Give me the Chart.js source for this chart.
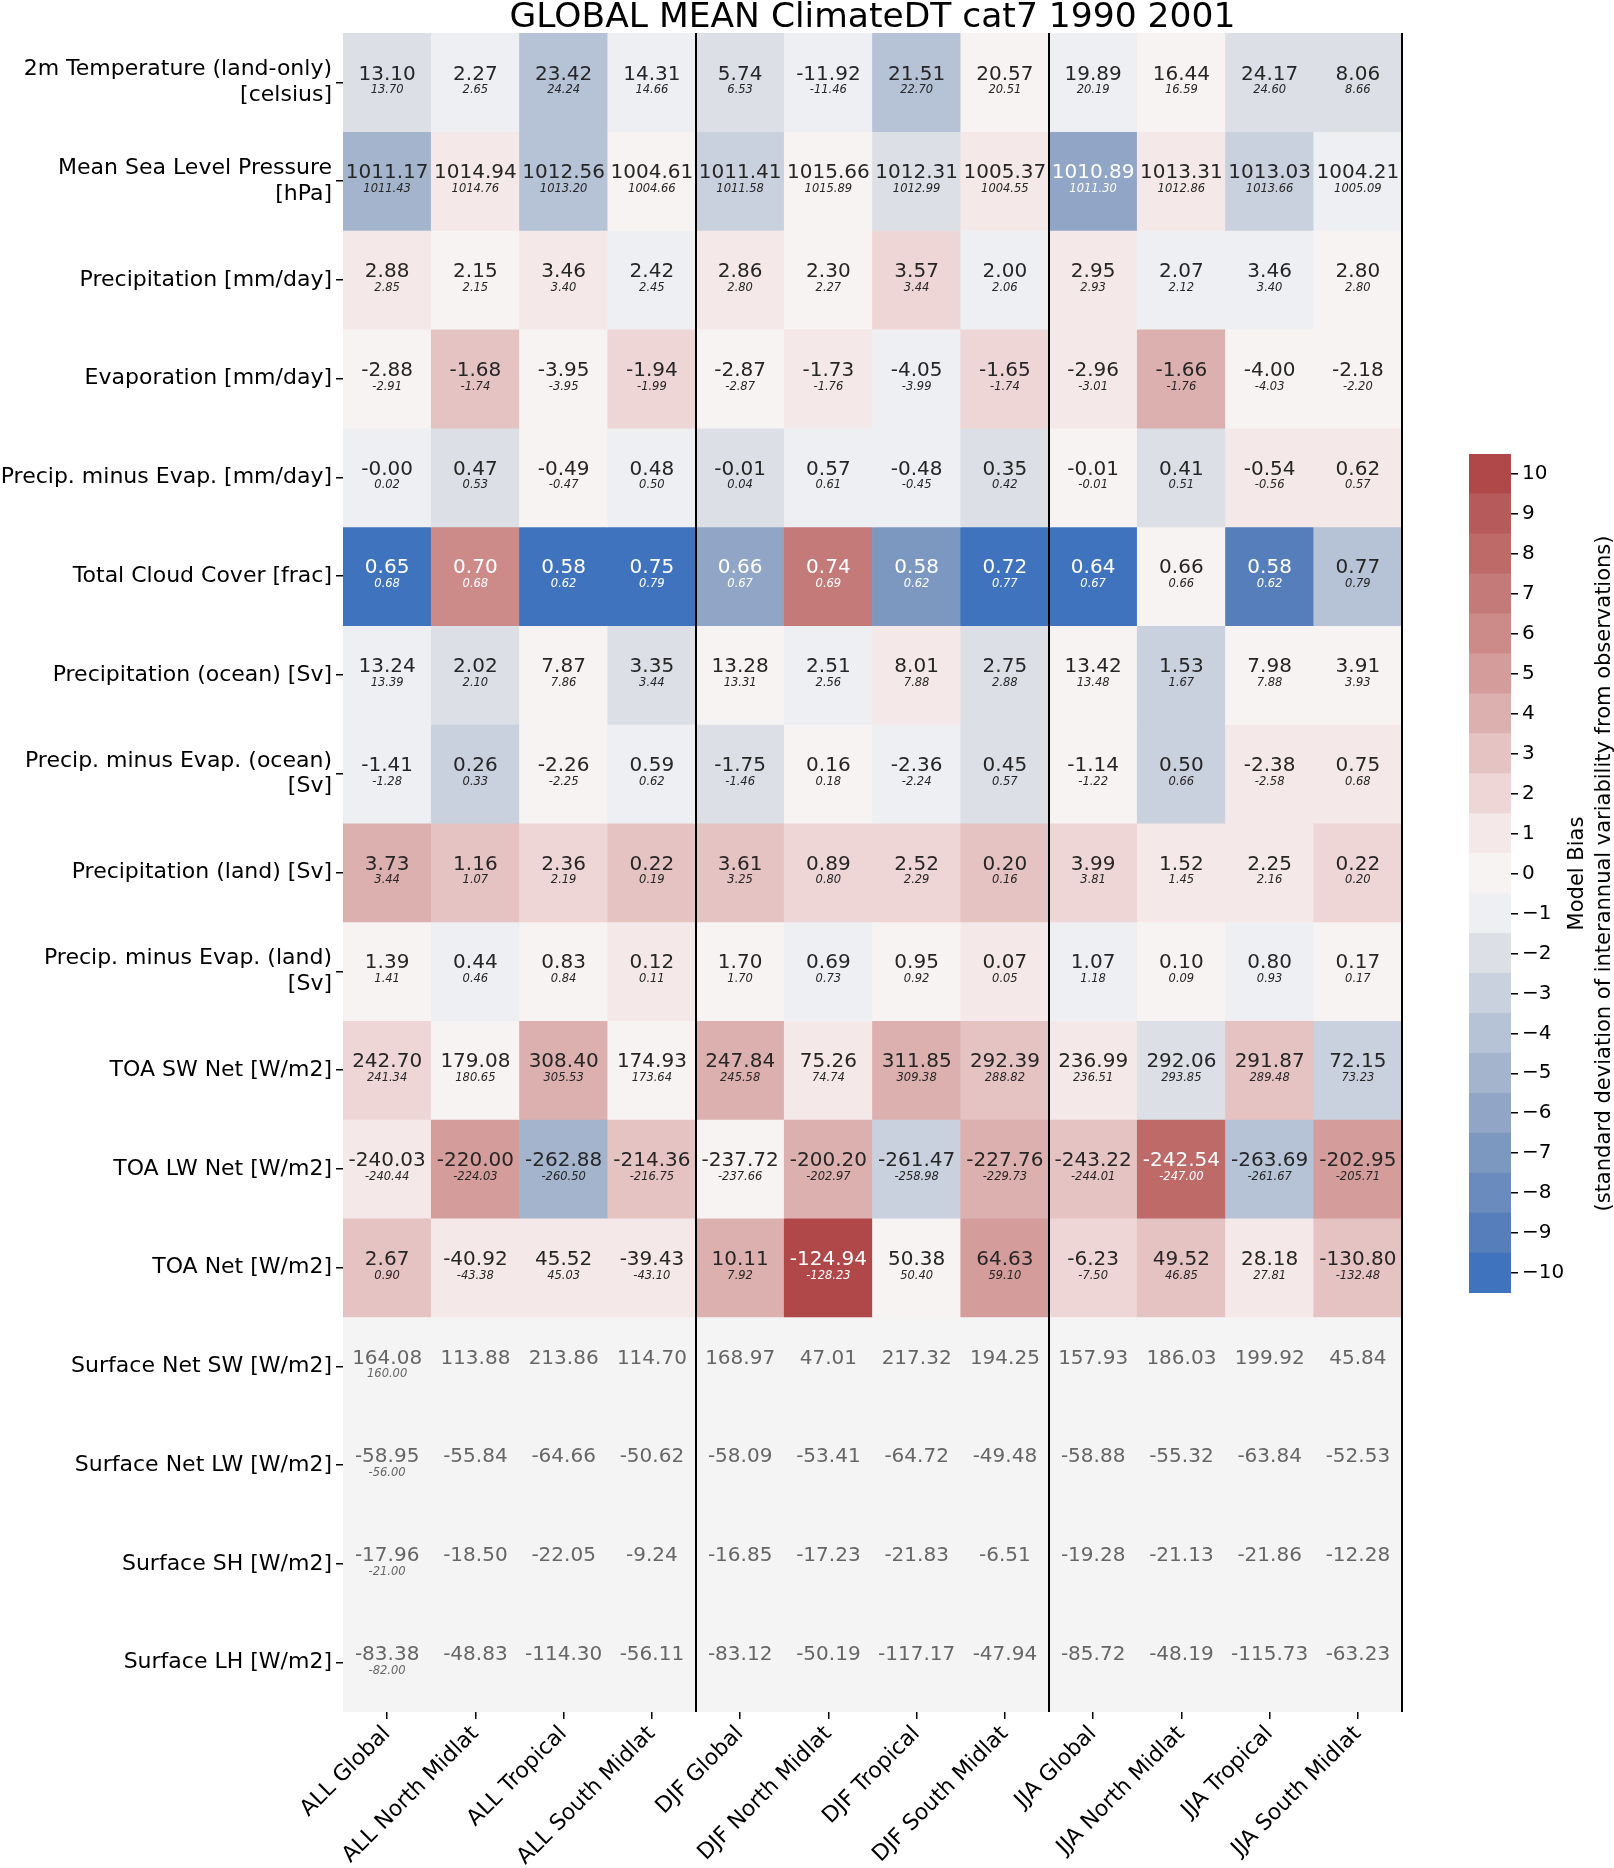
<!DOCTYPE html>
<html>
<head>
<meta charset="utf-8">
<script src="https://cdn.jsdelivr.net/npm/chart.js@4.4.1/dist/chart.umd.min.js"></script>
<style>
  html, body { margin: 0; background: #fff; }
  #wrap { position: relative; width: 1614px; height: 1868px; }
  canvas { position: absolute; top: 0; }
</style>
</head>
<body>
<div id="wrap">
  <canvas id="heat" width="1614" height="1868" style="left:0"></canvas>
  <canvas id="cbar" width="174" height="1868" style="left:1440px"></canvas>
</div>
<script>
const title = 'GLOBAL MEAN ClimateDT cat7 1990 2001'

const columns = [
  'ALL Global', 'ALL North Midlat', 'ALL Tropical', 'ALL South Midlat',
  'DJF Global', 'DJF North Midlat', 'DJF Tropical', 'DJF South Midlat',
  'JJA Global', 'JJA North Midlat', 'JJA Tropical', 'JJA South Midlat'
]

const variables = [
  ['2m Temperature (land-only)', '[celsius]'],
  ['Mean Sea Level Pressure', '[hPa]'],
  'Precipitation [mm/day]',
  'Evaporation [mm/day]',
  'Precip. minus Evap. [mm/day]',
  'Total Cloud Cover [frac]',
  'Precipitation (ocean) [Sv]',
  ['Precip. minus Evap. (ocean)', '[Sv]'],
  'Precipitation (land) [Sv]',
  ['Precip. minus Evap. (land)', '[Sv]'],
  'TOA SW Net [W/m2]',
  'TOA LW Net [W/m2]',
  'TOA Net [W/m2]',
  'Surface Net SW [W/m2]',
  'Surface Net LW [W/m2]',
  'Surface SH [W/m2]',
  'Surface LH [W/m2]'
]

// model values (big numbers in the cells)
const modelValues = [
  [13.10, 2.27, 23.42, 14.31, 5.74, -11.92, 21.51, 20.57, 19.89, 16.44, 24.17, 8.06],
  [1011.17, 1014.94, 1012.56, 1004.61, 1011.41, 1015.66, 1012.31, 1005.37, 1010.89, 1013.31, 1013.03, 1004.21],
  [2.88, 2.15, 3.46, 2.42, 2.86, 2.30, 3.57, 2.00, 2.95, 2.07, 3.46, 2.80],
  [-2.88, -1.68, -3.95, -1.94, -2.87, -1.73, -4.05, -1.65, -2.96, -1.66, -4.00, -2.18],
  [-0.00, 0.47, -0.49, 0.48, -0.01, 0.57, -0.48, 0.35, -0.01, 0.41, -0.54, 0.62],
  [0.65, 0.70, 0.58, 0.75, 0.66, 0.74, 0.58, 0.72, 0.64, 0.66, 0.58, 0.77],
  [13.24, 2.02, 7.87, 3.35, 13.28, 2.51, 8.01, 2.75, 13.42, 1.53, 7.98, 3.91],
  [-1.41, 0.26, -2.26, 0.59, -1.75, 0.16, -2.36, 0.45, -1.14, 0.50, -2.38, 0.75],
  [3.73, 1.16, 2.36, 0.22, 3.61, 0.89, 2.52, 0.20, 3.99, 1.52, 2.25, 0.22],
  [1.39, 0.44, 0.83, 0.12, 1.70, 0.69, 0.95, 0.07, 1.07, 0.10, 0.80, 0.17],
  [242.70, 179.08, 308.40, 174.93, 247.84, 75.26, 311.85, 292.39, 236.99, 292.06, 291.87, 72.15],
  [-240.03, -220.00, -262.88, -214.36, -237.72, -200.20, -261.47, -227.76, -243.22, -242.54, -263.69, -202.95],
  [2.67, -40.92, 45.52, -39.43, 10.11, -124.94, 50.38, 64.63, -6.23, 49.52, 28.18, -130.80],
  [164.08, 113.88, 213.86, 114.70, 168.97, 47.01, 217.32, 194.25, 157.93, 186.03, 199.92, 45.84],
  [-58.95, -55.84, -64.66, -50.62, -58.09, -53.41, -64.72, -49.48, -58.88, -55.32, -63.84, -52.53],
  [-17.96, -18.50, -22.05, -9.24, -16.85, -17.23, -21.83, -6.51, -19.28, -21.13, -21.86, -12.28],
  [-83.38, -48.83, -114.30, -56.11, -83.12, -50.19, -117.17, -47.94, -85.72, -48.19, -115.73, -63.23]
]

// observed values (small italic numbers), null = not shown
const obsValues = [
  [13.70, 2.65, 24.24, 14.66, 6.53, -11.46, 22.70, 20.51, 20.19, 16.59, 24.60, 8.66],
  [1011.43, 1014.76, 1013.20, 1004.66, 1011.58, 1015.89, 1012.99, 1004.55, 1011.30, 1012.86, 1013.66, 1005.09],
  [2.85, 2.15, 3.40, 2.45, 2.80, 2.27, 3.44, 2.06, 2.93, 2.12, 3.40, 2.80],
  [-2.91, -1.74, -3.95, -1.99, -2.87, -1.76, -3.99, -1.74, -3.01, -1.76, -4.03, -2.20],
  [0.02, 0.53, -0.47, 0.50, 0.04, 0.61, -0.45, 0.42, -0.01, 0.51, -0.56, 0.57],
  [0.68, 0.68, 0.62, 0.79, 0.67, 0.69, 0.62, 0.77, 0.67, 0.66, 0.62, 0.79],
  [13.39, 2.10, 7.86, 3.44, 13.31, 2.56, 7.88, 2.88, 13.48, 1.67, 7.88, 3.93],
  [-1.28, 0.33, -2.25, 0.62, -1.46, 0.18, -2.24, 0.57, -1.22, 0.66, -2.58, 0.68],
  [3.44, 1.07, 2.19, 0.19, 3.25, 0.80, 2.29, 0.16, 3.81, 1.45, 2.16, 0.20],
  [1.41, 0.46, 0.84, 0.11, 1.70, 0.73, 0.92, 0.05, 1.18, 0.09, 0.93, 0.17],
  [241.34, 180.65, 305.53, 173.64, 245.58, 74.74, 309.38, 288.82, 236.51, 293.85, 289.48, 73.23],
  [-240.44, -224.03, -260.50, -216.75, -237.66, -202.97, -258.98, -229.73, -244.01, -247.00, -261.67, -205.71],
  [0.90, -43.38, 45.03, -43.10, 7.92, -128.23, 50.40, 59.10, -7.50, 46.85, 27.81, -132.48],
  [160.00, null, null, null, null, null, null, null, null, null, null, null],
  [-56.00, null, null, null, null, null, null, null, null, null, null, null],
  [-21.00, null, null, null, null, null, null, null, null, null, null, null],
  [-82.00, null, null, null, null, null, null, null, null, null, null, null]
]

// model bias in std devs (colour of the cell), null = no data
const biasLevels = [
  [-2, -1, -4, -1, -2, -1, -4, 0, -1, 0, -2, -2],
  [-5, 1, -4, 0, -3, 0, -2, 1, -6, 1, -3, -1],
  [1, 0, 1, -1, 1, 0, 2, -1, 1, -1, -1, 0],
  [0, 3, 0, 2, 0, 1, -1, 2, 1, 4, 0, 0],
  [-1, -2, 0, -1, -2, -1, -1, -2, 0, -2, 1, 1],
  [-10, 6, -10, -10, -6, 7, -7, -10, -10, 0, -9, -4],
  [-1, -2, 0, -2, 0, -1, 1, -2, 0, -3, 0, 0],
  [-1, -3, 0, -1, -2, 0, -1, -2, 0, -3, 1, 1],
  [4, 3, 2, 3, 3, 2, 2, 3, 2, 1, 1, 2],
  [0, -1, 0, 1, 0, -1, 0, 1, -1, 0, -1, 0],
  [2, 0, 4, 0, 4, 1, 4, 3, 1, -2, 3, -3],
  [1, 5, -5, 3, 0, 4, -3, 4, 3, 8, -4, 5],
  [3, 1, 1, 1, 4, 10, 0, 5, 2, 3, 1, 3],
  [null, null, null, null, null, null, null, null, null, null, null, null],
  [null, null, null, null, null, null, null, null, null, null, null, null],
  [null, null, null, null, null, null, null, null, null, null, null, null],
  [null, null, null, null, null, null, null, null, null, null, null, null]
]

const cbarTicks = [-10, -9, -8, -7, -6, -5, -4, -3, -2, -1, 0, 1, 2, 3, 4, 5, 6, 7, 8, 9, 10]
const cbarColors = [
  '#3f73bd', '#567eba', '#698bbd', '#7d98c0', '#91a6c6', '#a3b4cc', '#b6c2d5',
  '#c9d0de', '#dcdfe6', '#eeeff2', '#f8f3f3', '#f5e8e8', '#eed6d6', '#e5c3c2',
  '#dcb0ae', '#d49d9b', '#cc8b89', '#c47a78', '#bd6a69', '#b75a5b', '#b0484a'
]
const naColor = '#f4f4f4'
const groupEdges = [4, 8, 12]

Chart.defaults.font.family = "'DejaVu Sans'"
Chart.defaults.color = '#000'

const fmt = v => (Object.is(v, -0) ? '-0.00' : v.toFixed(2))
const cellColor = b => (b === null ? naColor : cbarColors[b + 10])

const cellText = {
  id: 'cellText',
  afterDatasetsDraw(chart) {
    const { ctx, chartArea, scales: { x, y } } = chart
    ctx.save()
    ctx.textAlign = 'center'
    ctx.textBaseline = 'middle'
    modelValues.forEach((row, r) => {
      const cy = y.getPixelForValue(r + 0.5)
      row.forEach((v, c) => {
        const cx = x.getPixelForValue(c)
        const b = biasLevels[r][c]
        ctx.fillStyle = b === null ? '#666666' : Math.abs(b) >= 6 ? '#ffffff' : '#262626'
        ctx.font = "20px 'DejaVu Sans'"
        ctx.fillText(fmt(v), cx, cy - 8)
        const o = obsValues[r][c]
        if (o !== null) {
          ctx.font = "italic 11.5px 'DejaVu Sans'"
          ctx.fillText(fmt(o), cx, cy + 8)
        }
      })
    })
    ctx.strokeStyle = '#000'
    ctx.lineWidth = 2
    groupEdges.forEach(i => {
      const px = Math.round(x.getPixelForValue(i - 0.5))
      ctx.beginPath()
      ctx.moveTo(px, chartArea.top)
      ctx.lineTo(px, chartArea.bottom)
      ctx.stroke()
    })
    ctx.fillStyle = '#000'
    ctx.font = "34.5px 'DejaVu Sans'"
    ctx.textBaseline = 'alphabetic'
    ctx.fillText(title, (chartArea.left + chartArea.right) / 2, 27)
    ctx.restore()
  }
}

new Chart('heat', {
  type: 'bar',
  data: {
    labels: columns,
    datasets: variables.map((name, r) => ({
      label: Array.isArray(name) ? name.join(' ') : name,
      data: columns.map(() => [r, r + 1]),
      backgroundColor: biasLevels[r].map(cellColor),
      borderWidth: 0,
      grouped: false,
      barPercentage: 1,
      categoryPercentage: 1
    }))
  },
  options: {
    responsive: false,
    animation: false,
    devicePixelRatio: 1,
    layout: { padding: { top: 33, right: 212, left: 0, bottom: 0 } },
    plugins: { legend: { display: false }, tooltip: { enabled: false } },
    scales: {
      x: {
        type: 'category',
        offset: true,
        border: { display: false },
        grid: { offset: false, drawOnChartArea: false, drawTicks: true, tickLength: 7, color: '#000', lineWidth: 1.5 },
        ticks: { autoSkip: false, minRotation: 45, maxRotation: 45, padding: 2, font: { size: 22 } },
        afterFit: s => { s.height = 156 }
      },
      y: {
        type: 'linear',
        min: 0,
        max: variables.length,
        reverse: true,
        border: { display: false },
        grid: { drawOnChartArea: false, drawTicks: true, tickLength: 7, color: '#000', lineWidth: 1.5 },
        afterBuildTicks: s => { s.ticks = variables.map((_, i) => ({ value: i + 0.5 })) },
        ticks: { callback: (v, i) => variables[i], padding: 4, font: { size: 22, lineHeight: 1.15 } },
        afterFit: s => { s.width = 343 }
      }
    }
  },
  plugins: [cellText]
})

const cbarTitle = {
  id: 'cbarTitle',
  afterDraw(chart) {
    const { ctx, chartArea } = chart
    const cy = (chartArea.top + chartArea.bottom) / 2
    ctx.save()
    ctx.fillStyle = '#000'
    ctx.font = "21px 'DejaVu Sans'"
    ctx.textAlign = 'center'
    ctx.textBaseline = 'middle'
    const lines = ['Model Bias', '(standard deviation of interannual variability from observations)']
    lines.forEach((t, i) => {
      ctx.save()
      ctx.translate(138 + i * 27, cy)
      ctx.rotate(-Math.PI / 2)
      ctx.fillText(t, 0, 0)
      ctx.restore()
    })
    ctx.restore()
  }
}

new Chart('cbar', {
  type: 'bar',
  data: {
    labels: [''],
    datasets: cbarTicks.map((t, i) => ({
      data: [[t - 0.5, t + 0.5]],
      backgroundColor: cbarColors[i],
      borderWidth: 0,
      grouped: false,
      barPercentage: 1,
      categoryPercentage: 1
    }))
  },
  options: {
    responsive: false,
    animation: false,
    devicePixelRatio: 1,
    layout: { padding: { left: 29, top: 454, bottom: 575, right: 0 } },
    plugins: { legend: { display: false }, tooltip: { enabled: false } },
    scales: {
      x: { display: false },
      y: {
        position: 'right',
        min: -10.5,
        max: 10.5,
        border: { display: false },
        grid: { drawOnChartArea: false, drawTicks: true, tickLength: 7, color: '#000', lineWidth: 1.5 },
        afterBuildTicks: s => { s.ticks = cbarTicks.map(v => ({ value: v })) },
        ticks: { callback: v => (v < 0 ? '\u2212' + Math.abs(v) : String(v)), padding: 4, font: { size: 20 } },
        afterFit: s => { s.width = 103 }
      }
    }
  },
  plugins: [cbarTitle]
})
</script>
</body>
</html>
